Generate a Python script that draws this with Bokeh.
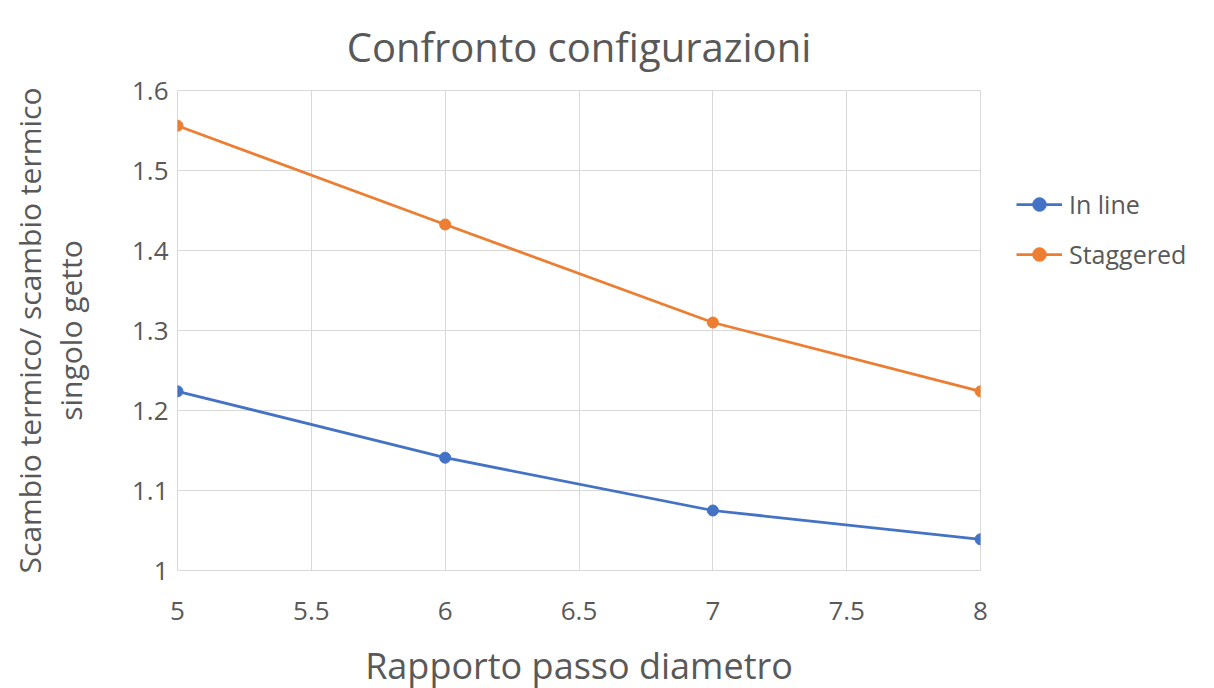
from bokeh.plotting import figure
from bokeh.models import FixedTicker, Legend, LegendItem, Range1d
from bokeh.embed import file_html
from bokeh.resources import INLINE

# Data
x_vals = [5, 6, 7, 8]
in_line = [1.224, 1.141, 1.075, 1.039]
staggered = [1.556, 1.4325, 1.31, 1.224]
x_ticks = [5, 5.5, 6, 6.5, 7, 7.5, 8]
x_tick_labels = ["5", "5.5", "6", "6.5", "7", "7.5", "8"]
y_ticks = [1.0, 1.1, 1.2, 1.3, 1.4, 1.5, 1.6]
y_tick_labels = ["1", "1.1", "1.2", "1.3", "1.4", "1.5", "1.6"]

FONT = "Open Sans"
TXT = "#595959"
GRID = "#D9D9D9"
BLUE = "#4472C4"
ORANGE = "#ED7D31"

p = figure(frame_width=803, frame_height=480, output_backend="svg", toolbar_location=None,
           x_range=Range1d(5, 8), y_range=Range1d(1.0, 1.6),
           min_border_left=177, min_border_right=0, min_border_top=90, min_border_bottom=102)

p.title.text = "Confronto configurazioni"
p.title.align = "center"
p.title.text_font = FONT
p.title.text_font_size = "40px"
p.title.text_font_style = "normal"
p.title.text_color = TXT
p.title.offset = 23
p.title.standoff = 33

xax = p.below[0]
yax = p.left[0]
xax.ticker = FixedTicker(ticks=x_ticks)
yax.ticker = FixedTicker(ticks=y_ticks)
xax.major_label_overrides = {t: l for t, l in zip(x_ticks, x_tick_labels)}
yax.major_label_overrides = {t: l for t, l in zip(y_ticks, y_tick_labels)}

for ax in (xax, yax):
    ax.axis_line_color = None
    ax.major_tick_line_color = None
    ax.minor_tick_line_color = None
    ax.major_label_text_font = FONT
    ax.major_label_text_font_size = "26px"
    ax.major_label_text_color = TXT
    ax.axis_label_text_font = FONT
    ax.axis_label_text_font_style = "normal"
    ax.axis_label_text_color = TXT

xax.axis_label = "Rapporto passo diametro"
yax.axis_label = "Scambio termico/ scambio termico\nsingolo getto"
xax.axis_label_text_font_size = "36px"
yax.axis_label_text_font_size = "30px"
yax.axis_label_text_line_height = 1.0
xax.major_label_standoff = 25
yax.major_label_standoff = 3
xax.axis_label_standoff = 18
yax.axis_label_standoff = 38

p.xgrid.grid_line_color = GRID
p.ygrid.grid_line_color = GRID
p.xgrid.grid_line_width = 1
p.ygrid.grid_line_width = 1
p.outline_line_color = GRID

p.background_fill_color = "white"
p.border_fill_color = "white"

l1 = p.line(x_vals, in_line, line_color=BLUE, line_width=2.75)
s1 = p.scatter(x_vals, in_line, size=11, fill_color=BLUE, line_color=BLUE)
l2 = p.line(x_vals, staggered, line_color=ORANGE, line_width=2.75)
s2 = p.scatter(x_vals, staggered, size=11, fill_color=ORANGE, line_color=ORANGE)

legend = Legend(items=[LegendItem(label="In line", renderers=[l1, s1]),
                       LegendItem(label="Staggered", renderers=[l2, s2])],
                location="top_left")
legend.title = " "
legend.title_text_font_size = "1px"
legend.title_standoff = 60
legend.margin = 36
legend.padding = 10
legend.border_line_color = None
legend.background_fill_alpha = 0
legend.label_text_font = FONT
legend.label_text_font_size = "25px"
legend.label_text_color = TXT
legend.glyph_width = 46
legend.glyph_height = 34
legend.label_height = 34
legend.spacing = 16
legend.label_standoff = 7
p.add_layout(legend, "right")

open("out.html", "w").write(file_html(p, INLINE))
